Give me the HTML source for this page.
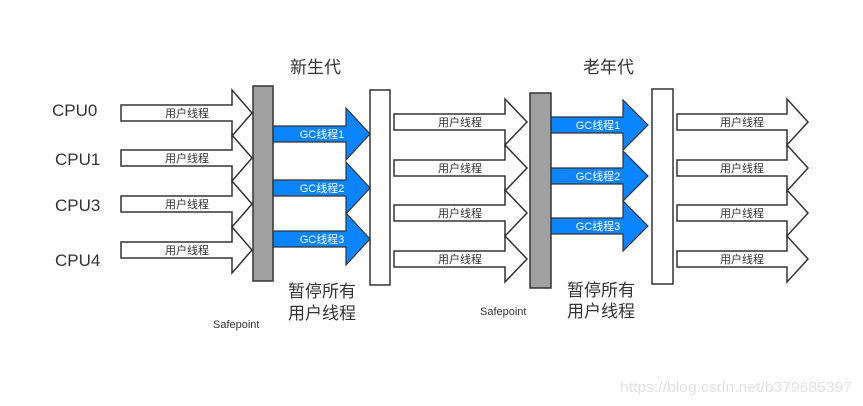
<!DOCTYPE html>
<html><head><meta charset="utf-8"><style>
html,body{margin:0;padding:0;background:#fff;width:863px;height:406px;overflow:hidden}
text{font-family:"Liberation Sans","Noto Sans CJK SC",sans-serif}
</style></head><body>
<svg width="863" height="406" viewBox="0 0 863 406" xmlns="http://www.w3.org/2000/svg">
<g fill="#fff" stroke="#333" stroke-width="1.5">
<polygon points="121,105 232,105 232,90 252,113 232,136 232,121 121,121"/>
<polygon points="121,150 232,150 232,135 252,158 232,181 232,166 121,166"/>
<polygon points="121,196 232,196 232,181 252,204 232,227 232,212 121,212"/>
<polygon points="121,242 232,242 232,227 252,250 232,273 232,258 121,258"/>
<polygon points="394,114 505,114 505,99 527,122 505,145 505,130 394,130"/>
<polygon points="394,160 505,160 505,145 527,168 505,191 505,176 394,176"/>
<polygon points="394,205 505,205 505,190 527,213 505,236 505,221 394,221"/>
<polygon points="394,251 505,251 505,236 527,259 505,282 505,267 394,267"/>
<polygon points="677,114 787,114 787,99 808,122 787,145 787,130 677,130"/>
<polygon points="677,160 787,160 787,145 808,168 787,191 787,176 677,176"/>
<polygon points="677,205 787,205 787,190 808,213 787,236 787,221 677,221"/>
<polygon points="677,251 787,251 787,236 808,259 787,282 787,267 677,267"/>
</g>
<g fill="#0a84ff" stroke="#333" stroke-width="1.2">
<polygon points="273,126 346,126 346,108 370,134 346,160 346,142 273,142"/>
<polygon points="273,180 346,180 346,162 370,188 346,214 346,196 273,196"/>
<polygon points="273,231 346,231 346,213 370,239 346,265 346,247 273,247"/>
<polygon points="551,117 623,117 623,100 648,125 623,150 623,133 551,133"/>
<polygon points="551,168 623,168 623,151 648,176 623,201 623,184 551,184"/>
<polygon points="551,218 623,218 623,201 648,226 623,251 623,234 551,234"/>
</g>
<g stroke="#333" stroke-width="1.5">
<rect x="253" y="86" width="20" height="195" fill="#a0a0a0"/>
<rect x="370" y="90" width="20" height="195" fill="#fff"/>
<rect x="530" y="93" width="21" height="195" fill="#a0a0a0"/>
<rect x="652" y="89" width="21" height="195" fill="#fff"/>
</g>
<g font-size="11" fill="#333" text-anchor="middle">
<text x="187" y="117">用户线程</text><text x="187" y="162">用户线程</text><text x="187" y="208">用户线程</text><text x="187" y="254">用户线程</text>
<text x="460" y="126">用户线程</text><text x="460" y="172">用户线程</text><text x="460" y="217">用户线程</text><text x="460" y="263">用户线程</text>
<text x="742" y="126">用户线程</text><text x="742" y="172">用户线程</text><text x="742" y="217">用户线程</text><text x="742" y="263">用户线程</text>
</g>
<g font-size="11" fill="#fff" text-anchor="middle">
<text x="322" y="138">GC线程1</text><text x="322" y="192">GC线程2</text><text x="322" y="243">GC线程3</text>
<text x="598" y="129">GC线程1</text><text x="598" y="180">GC线程2</text><text x="598" y="230">GC线程3</text>
</g>
<g font-size="17" fill="#333">
<text x="52" y="116">CPU0</text><text x="55" y="165">CPU1</text><text x="55" y="211">CPU3</text><text x="55" y="266">CPU4</text>
<text x="290" y="73">新生代</text><text x="583" y="73">老年代</text>
<text x="288" y="297">暂停所有</text><text x="288" y="319">用户线程</text>
<text x="567" y="296">暂停所有</text><text x="567" y="317">用户线程</text>
</g>
<g font-size="11" fill="#333">
<text x="213" y="328">Safepoint</text><text x="480" y="315">Safepoint</text>
</g>
<text x="620" y="392" font-size="15" fill="#e2e2e2" textLength="232" lengthAdjust="spacingAndGlyphs">https://blog.csdn.net/b379685397</text>
</svg>
</body></html>
